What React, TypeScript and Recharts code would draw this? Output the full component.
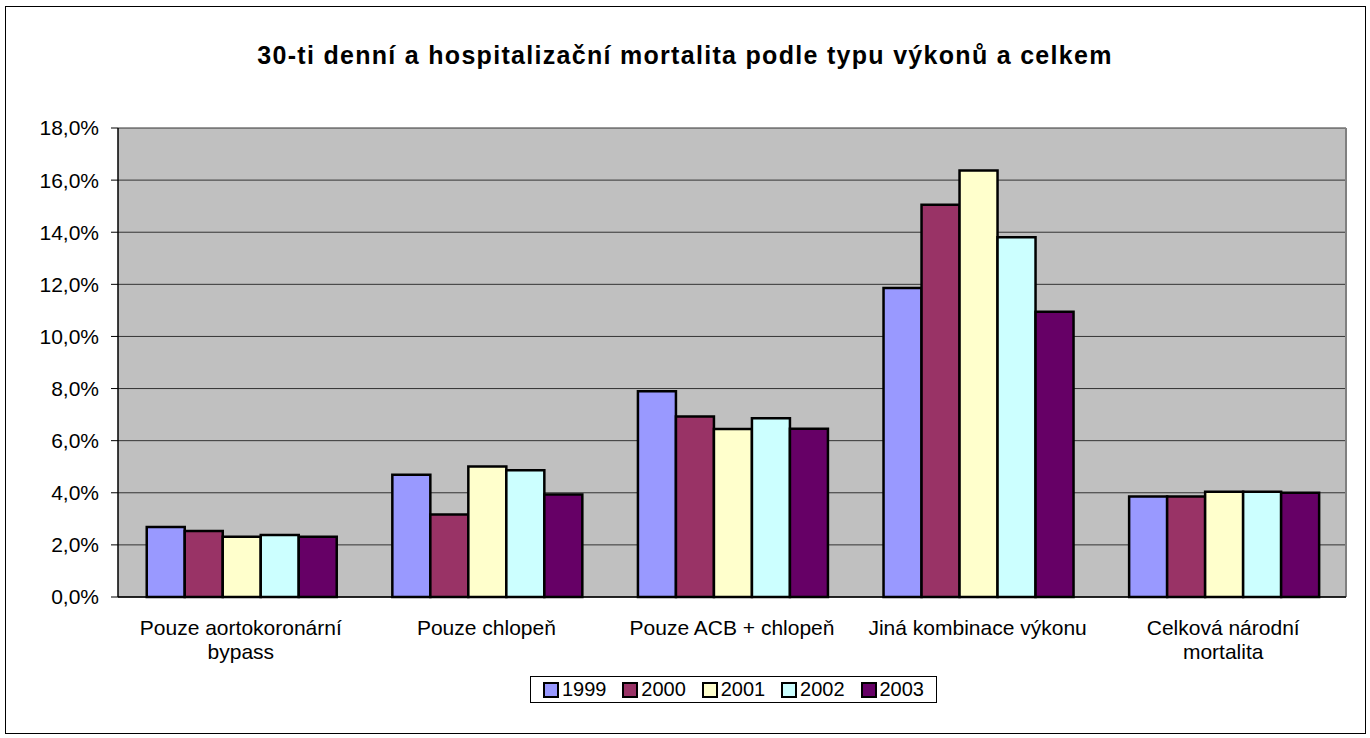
import { BarChart, Bar, XAxis, YAxis, CartesianGrid } from 'recharts'

const categories = [
  'Pouze aortokoronární bypass',
  'Pouze chlopeň',
  'Pouze ACB + chlopeň',
  'Jiná kombinace výkonu',
  'Celková národní mortalita',
]
const categoryLines: string[][] = [
  ['Pouze aortokoronární', 'bypass'],
  ['Pouze chlopeň'],
  ['Pouze ACB + chlopeň'],
  ['Jiná kombinace výkonu'],
  ['Celková národní', 'mortalita'],
]
const years = ['1999', '2000', '2001', '2002', '2003']
const v1999 = [2.69, 4.69, 7.9, 11.86, 3.86]
const v2000 = [2.53, 3.17, 6.93, 15.05, 3.86]
const v2001 = [2.31, 5.01, 6.45, 16.37, 4.04]
const v2002 = [2.38, 4.86, 6.86, 13.81, 4.04]
const v2003 = [2.31, 3.93, 6.46, 10.95, 4.0]
const yTicks = [0, 2, 4, 6, 8, 10, 12, 14, 16, 18]
const boundaryTicks = [0, 1, 2, 3, 4, 5]

const COLORS = ['#9999FF', '#993366', '#FFFFCC', '#CCFFFF', '#660066']
const FONT = 'Arial, "Liberation Sans", sans-serif'

const series = [v1999, v2000, v2001, v2002, v2003]
const data = categories.map((name, i) => {
  const row: any = { name, idx: i }
  years.forEach((y, k) => { row[y] = series[k][i] })
  return row
})

const fmt = (v: number) => v.toFixed(1).replace('.', ',') + '%'

function CatTick(props: any) {
  const { x, y, payload } = props
  const lines = categoryLines[payload.index] ?? [payload.value]
  return (
    <g transform={`translate(${x},${y})`}>
      {lines.map((l, i) => (
        <text key={i} x={0} y={30 + i * 24} textAnchor="middle" fontSize={21} fontFamily={FONT} fill="#000">
          {l}
        </text>
      ))}
    </g>
  )
}

function LegendBox() {
  return (
    <div style={{
      position: 'absolute', left: 530, top: 676, width: 397, height: 25,
      display: 'flex', alignItems: 'center', justifyContent: 'space-around',
      border: '1px solid #000', background: '#fff', padding: '0 4px', boxSizing: 'content-box',
      fontFamily: FONT, fontSize: 20, color: '#000',
    }}>
      {years.map((y, i) => (
        <span key={y} style={{ display: 'flex', alignItems: 'center' }}>
          <span style={{ width: 12, height: 12, background: COLORS[i], border: '2px solid #000', marginRight: 3 }} />
          {y}
        </span>
      ))}
    </div>
  )
}

export default function App() {
  return (
    <div style={{ position: 'absolute', left: 0, top: 0, width: 1370, height: 738, background: '#fff' }}>
      <div style={{ position: 'absolute', left: 5, top: 6, width: 1359, height: 726, border: '1px solid #000' }} />
      <div style={{
        position: 'absolute', left: 0, top: 41, width: 1370, textAlign: 'center',
        fontFamily: FONT, fontWeight: 'bold', fontSize: 25, letterSpacing: 1.3, color: '#000',
      }}>
        30-ti denní a hospitalizační mortalita podle typu výkonů a celkem
      </div>
      <BarChart
        width={1370}
        height={738}
        data={data}
        margin={{ top: 128, right: 24, bottom: 81, left: 8 }}
        barCategoryGap="11.7%"
        barGap={0}
        style={{ position: 'absolute', left: 0, top: 0 }}
      >
        <CartesianGrid fill="#C0C0C0" stroke="#333" vertical={false} horizontalValues={yTicks} />
        <CartesianGrid
          stroke="#808080"
          strokeWidth={2}
          horizontal={false}
          verticalCoordinatesGenerator={({ offset }: any) => [offset.left + offset.width]}
        />
        <XAxis
          xAxisId="edge"
          type="number"
          dataKey="idx"
          domain={[0, 5]}
          ticks={boundaryTicks}
          tickFormatter={() => ''}
          height={0}
          axisLine={false}
          tickLine={{ stroke: '#000' }}
          tickSize={7}
          allowDataOverflow
        />
        <XAxis
          dataKey="name"
          height={60}
          interval={0}
          tick={<CatTick />}
          tickLine={false}
          axisLine={{ stroke: '#000', strokeWidth: 1.5 }}
        />
        <YAxis
          width={110}
          domain={[0, 18]}
          ticks={yTicks}
          tickFormatter={fmt}
          tick={{ fontSize: 21, fontFamily: FONT, fill: '#000' }}
          axisLine={{ stroke: '#000', strokeWidth: 1.5 }}
          tickLine={{ stroke: '#000' }}
          tickSize={7}
          tickMargin={12}
        />
        {years.map((y, i) => (
          <Bar
            key={y}
            dataKey={y}
            fill={COLORS[i]}
            stroke="#000"
            strokeWidth={2.5}
            isAnimationActive={false}
          />
        ))}
      </BarChart>
      <LegendBox />
    </div>
  )
}
